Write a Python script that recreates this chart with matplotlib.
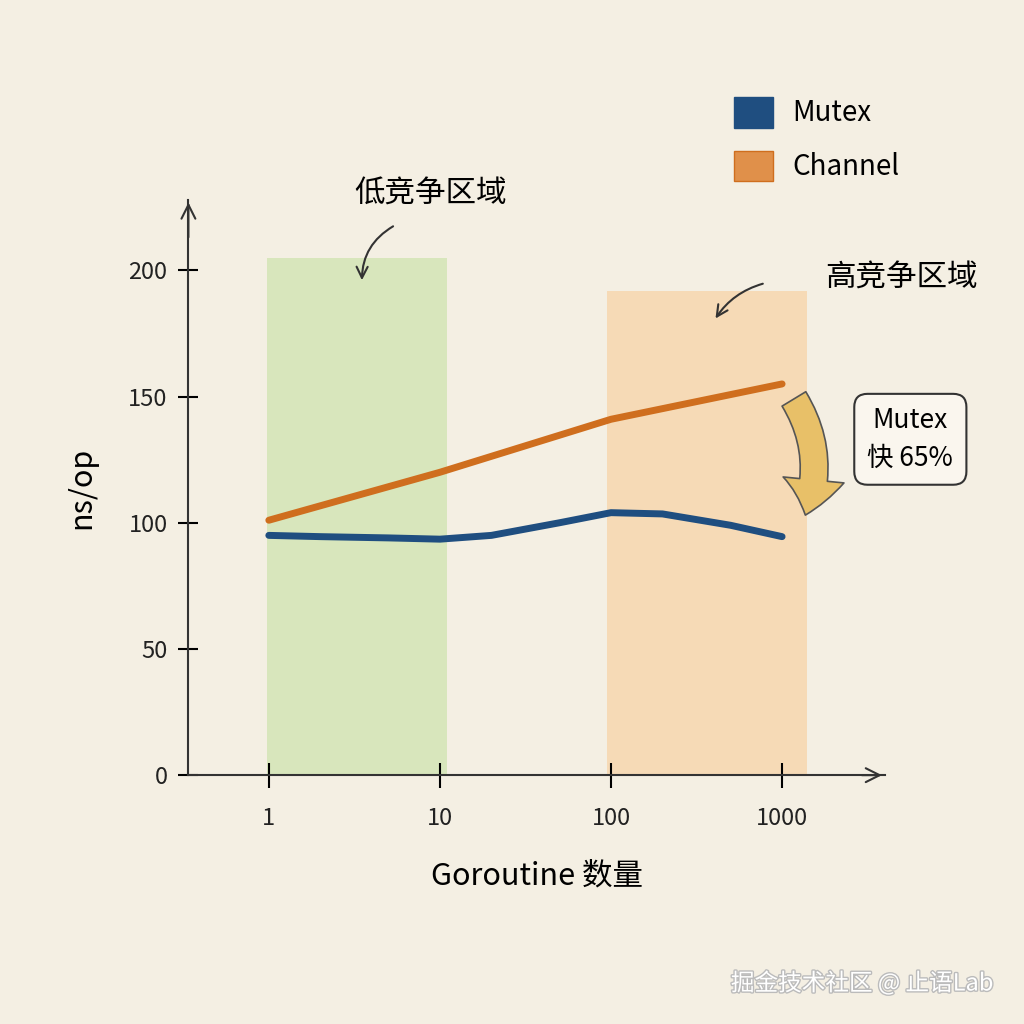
import matplotlib
matplotlib.use("Agg")
import matplotlib.pyplot as plt
import matplotlib.patheffects as pe
import matplotlib.patches as mpatches
import matplotlib.ticker as mticker

plt.rcParams['font.family'] = ['Noto Sans CJK SC', 'DejaVu Sans']

goroutines = [1, 2, 5, 10, 20, 50, 100, 200, 500, 1000]
mutex_ns = [95, 94.5, 94, 93.5, 95, 100, 104, 103.5, 99, 94.5]
chan_x = [1, 10, 100, 1000]
channel_ns = [101, 120, 141, 155]
yticks = [0, 50, 100, 150, 200]
xticks = [1, 10, 100, 1000]
xticklabels = ["1", "10", "100", "1000"]

bg = "#f4efe3"
fig = plt.figure(figsize=(10.24, 10.24), dpi=100, facecolor=bg)
ax = fig.add_axes([0.184, 0.243, 0.68, 0.562], facecolor=bg)
ax.set_xscale("log")
ax.set_xlim(10**-0.47, 10**3.6)
ax.set_ylim(0, 228)

ax.fill_between([0.98, 11], 0, 205, color="#cfe3b0", alpha=0.75, lw=0)
ax.fill_between([95, 1400], 0, 192, color="#f7d3a8", alpha=0.75, lw=0)

ax.plot(chan_x, channel_ns, color="#cf6e1e", lw=5, solid_capstyle="round")
ax.plot(goroutines, mutex_ns, color="#1f4e80", lw=5, solid_capstyle="round", solid_joinstyle="round")

for s in ["top", "right"]:
    ax.spines[s].set_visible(False)
for s in ["left", "bottom"]:
    ax.spines[s].set_color("#333333")
    ax.spines[s].set_linewidth(1.5)
ax.annotate("", xy=(10**3.6, 0), xytext=(10**3.45, 0),
            arrowprops=dict(arrowstyle="->", color="#333", lw=1.5, mutation_scale=25), annotation_clip=False)
ax.annotate("", xy=(10**-0.47, 228), xytext=(10**-0.47, 212),
            arrowprops=dict(arrowstyle="->", color="#333", lw=1.5, mutation_scale=25), annotation_clip=False)

ax.set_yticks(yticks)
ax.set_yticklabels([str(v) for v in yticks], fontsize=17, color="#222")
ax.set_xticks(xticks)
ax.set_xticklabels(xticklabels, fontsize=17, color="#222")
ax.xaxis.set_minor_locator(mticker.NullLocator())
ax.tick_params(axis="x", direction="inout", length=18, width=1.5, pad=14)
ax.tick_params(axis="y", direction="inout", length=14, width=1.5, pad=8)
ax.set_ylabel("ns/op", fontsize=22, labelpad=22)
ax.set_xlabel("Goroutine 数量", fontsize=22, labelpad=22)

fig.text(0.42, 0.81, "低竞争区域", fontsize=22, ha="center", va="center")
fig.text(0.88, 0.728, "高竞争区域", fontsize=22, ha="center", va="center")
ax.annotate("", xy=(3.5, 195), xytext=(5.5, 218),
            arrowprops=dict(arrowstyle="->", color="#333", lw=1.5, connectionstyle="arc3,rad=0.3", mutation_scale=20),
            annotation_clip=False)
ax.annotate("", xy=(400, 180), xytext=(800, 195),
            arrowprops=dict(arrowstyle="->", color="#333", lw=1.5, connectionstyle="arc3,rad=0.2", mutation_scale=20),
            annotation_clip=False)
ax.annotate("", xy=(1350, 102), xytext=(1150, 150),
            arrowprops=dict(arrowstyle="simple,head_width=2.2,head_length=1.3,tail_width=1.0",
                            fc="#e8c068", ec="#555", lw=1.2, mutation_scale=20,
                            connectionstyle="arc3,rad=-0.25"), annotation_clip=False)
fig.text(0.889, 0.571, "Mutex\n快 65%", fontsize=19, ha="center", va="center", linespacing=1.5,
         bbox=dict(boxstyle="round,pad=0.5", fc="#faf6ee", ec="#333", lw=1.5))

fig.patches.append(mpatches.Rectangle((0.717, 0.875), 0.038, 0.03, transform=fig.transFigure,
                                      fc="#1f4e80", ec="#1f4e80"))
fig.patches.append(mpatches.Rectangle((0.717, 0.823), 0.038, 0.03, transform=fig.transFigure,
                                      fc="#e0904a", ec="#cf6e1e"))
fig.text(0.774, 0.89, "Mutex", fontsize=20, va="center")
fig.text(0.774, 0.837, "Channel", fontsize=20, va="center")

fig.text(0.97, 0.04, "掘金技术社区 @ 止语Lab", fontsize=17, color="white", ha="right", va="center",
         path_effects=[pe.withStroke(linewidth=2, foreground="#bbb")])

fig.savefig("out.png", dpi=100, facecolor=bg)
